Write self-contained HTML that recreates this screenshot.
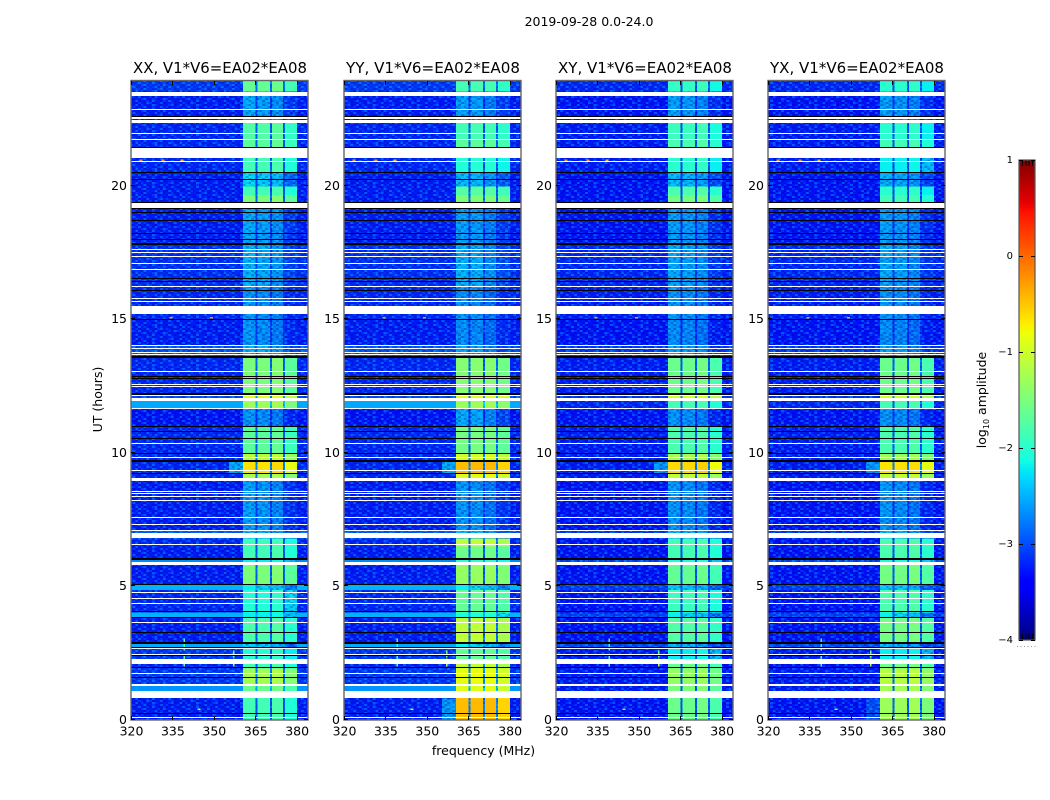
<!DOCTYPE html>
<html lang="en">
<head>
<meta charset="utf-8">
<title>2019-09-28 0.0-24.0</title>
<style>
html,body{margin:0;padding:0;background:#fff;}
svg{display:block;}
text{font-family:"DejaVu Sans","Liberation Sans",sans-serif;fill:#000;}
</style>
</head>
<body>
<svg id="chart" xmlns="http://www.w3.org/2000/svg" width="1050" height="800" viewBox="0 0 1050 800">
  <defs><pattern id="grain" patternUnits="userSpaceOnUse" x="0" y="0" width="44.16" height="26"></pattern></defs>
  <rect x="0" y="0" width="1050" height="800" fill="#fff"/>
  <text x="589" y="26" font-size="12.5" text-anchor="middle">2019-09-28 0.0-24.0</text>
  <text x="483.5" y="755" font-size="12.5" text-anchor="middle">frequency (MHz)</text>
  <text transform="translate(102,399.5) rotate(-90)" font-size="12.5" text-anchor="middle">UT (hours)</text>
  <text transform="translate(986,400) rotate(-90)" font-size="12.5" text-anchor="middle">log<tspan font-size="8" dy="3">10</tspan><tspan dy="-3"> amplitude</tspan></text>
  <g id="panels"></g>
  <g id="colorbar"></g>
  <line x1="1017" y1="646.5" x2="1036" y2="646.5" stroke="#999" stroke-width="1" stroke-dasharray="1 2.5"/>
</svg>
<script>
// ---- axis categories and tick labels ----
const panelTitles = ["XX, V1*V6=EA02*EA08", "YY, V1*V6=EA02*EA08", "XY, V1*V6=EA02*EA08", "YX, V1*V6=EA02*EA08"];
const freqTicks = [320, 335, 350, 365, 380];
const utTicks = [0, 5, 10, 15, 20];
const colorbarTicks = [1, 0, -1, -2, -3, -4];
const freqLimits = [320, 384.1];
const utLimits = [0, 23.93];
const levelLimits = [-4, 1];

// ---- frequency channel groups (MHz edges) ----
const channelEdges = [320, 360.6, 365.0, 365.8, 370.3, 371.0, 375, 375.8, 380.2, 384.1];
// role of each group: b = background, 0-3 = band number, g = gap between bands
const channelRoles = ["b", 0, "g", 1, "g", 2, "g", 3, "b"];

// ---- time segments, log10 amplitude read per block ----
const segmentStartUT = [0, 0.8, 1.07, 1.33, 1.93, 2.27, 2.68, 2.9, 3.82, 4.03, 4.87, 5.05, 5.8, 6.02, 6.5, 6.8, 7.1, 9.05, 9.22, 9.7, 10.0, 11.0, 11.65, 11.95, 12.2, 13.6, 14.05, 15.0, 15.5, 16.2, 17.3, 17.9, 19.38, 19.66, 19.97, 20.5, 21.05, 21.75, 22.35, 23.53];
const backgroundParallel = [-3.25, -3.25, -2.65, -3.1, -3.2, -3.1, -2.55, -3.25, -2.5, -3.2, -2.5, -3.25, -2.7, -3.25, -3.2, -2.9, -3.25, -3.2, -3.2, -3.2, -3.2, -3.3, -2.55, -3, -3.2, -2.95, -3.25, -3.2, -3.2, -3.15, -3.15, -3.25, -3.25, -3.25, -3.25, -3.2, -3.2, -3.2, -3.25, -3.1];
const backgroundCross = [-3.3, -3.3, -3.25, -3.25, -3.3, -3.25, -3, -3.3, -3.05, -3.3, -3.05, -3.3, -3, -3.3, -3.3, -3.1, -3.3, -3.25, -3.25, -3.25, -3.25, -3.3, -3.2, -3.1, -3.25, -3.1, -3.3, -3.25, -3.25, -3.2, -3.2, -3.3, -3.3, -3.3, -3.3, -3.25, -3.25, -3.25, -3.3, -3.2];
const bandLevelsXX = [-1.85, -1.85, -1.6, -1.25, -1.85, -2.0, -2.4, -1.8, -2.2, -2.05, -2.3, -1.5, -2.2, -1.85, -1.9, -2.5, -2.65, -1.25, -0.65, -1.15, -1.7, -2.7, -1.3, -0.9, -1.5, -2.5, -2.7, -2.7, -2.7, -2.55, -2.55, -2.6, -1.5, -1.85, -2.35, -1.85, -1.7, -1.75, -2.6, -1.65];
const bandLevelsYY = [-0.45, -0.55, -0.9, -0.85, -1.1, -1.65, -2.3, -1.1, -2.1, -1.65, -2.3, -1.35, -2.0, -1.6, -1.1, -2.5, -2.7, -0.9, -0.45, -1.0, -1.55, -2.6, -1.3, -0.9, -1.45, -2.6, -2.75, -2.7, -2.75, -2.55, -2.6, -2.65, -1.5, -1.75, -2.5, -2.05, -1.7, -1.85, -2.65, -1.85];
const bandLevelsXY = [-1.6, -1.6, -1.5, -1.35, -1.6, -2.2, -2.5, -1.75, -2.3, -1.9, -2.4, -1.65, -2.1, -1.85, -1.85, -2.5, -2.7, -1.1, -0.6, -1.25, -1.8, -2.7, -1.85, -0.95, -1.6, -2.6, -2.75, -2.7, -2.7, -2.6, -2.6, -2.65, -1.55, -1.8, -2.5, -2.0, -1.8, -1.9, -2.65, -1.95];
const bandLevelsYX = [-1.3, -1.25, -1.25, -1.15, -1.55, -2.2, -2.5, -1.55, -2.3, -1.8, -2.4, -1.55, -2.1, -1.8, -1.8, -2.5, -2.7, -1.1, -0.65, -1.3, -1.8, -2.7, -1.85, -1.0, -1.6, -2.6, -2.75, -2.7, -2.7, -2.6, -2.6, -2.65, -1.85, -2.0, -2.55, -2.2, -1.85, -2.0, -2.65, -2.0];
const bandOffsetsXX = [0, 0, 0.05, -0.2];
const bandOffsetsYY = [0, 0.02, 0.02, -0.12];
const bandOffsetsXY = [0, 0, 0.05, -0.2];
const bandOffsetsYX = [0, 0, 0.03, -0.2];
// extra per-band shift seen only in the faint rows
const faintBandOffsets = [0.1, 0.05, -0.1, -0.3];

// ---- low-level leak just below the first band ----
const leakPanels = [0, 1, 2, 3, 1, 3];
const leakStartUT = [9.22, 9.22, 9.22, 9.22, 0, 0];
const leakEndUT = [9.7, 9.7, 9.7, 9.7, 0.8, 0.8];
const leakValues = [-2.5, -2.5, -2.6, -2.6, -2.6, -3.0];

// ---- flagged (blank) time ranges, UT hours ----
const flaggedStartUT = [0.094, 0.806, 1.256, 1.706, 2.081, 2.418, 2.643, 3.618, 4.33, 4.518, 4.743, 5.792, 6.542, 6.805, 6.973, 7.067, 7.292, 7.554, 8.192, 8.342, 8.454, 8.529, 8.941, 9.316, 9.804, 10.329, 11.641, 11.941, 12.128, 12.465, 12.541, 13.028, 13.665, 13.741, 13.89, 14.003, 15.202, 15.652, 15.765, 16.214, 16.852, 17.077, 17.339, 17.489, 17.602, 19.176, 20.902, 21.051, 21.726, 21.951, 22.363, 22.513, 22.832, 23.375];
const flaggedEndUT = [0.131, 1.068, 1.331, 1.743, 2.268, 2.456, 2.681, 3.655, 4.367, 4.555, 4.78, 5.905, 6.58, 6.954, 7.01, 7.104, 7.329, 7.592, 8.229, 8.379, 8.492, 8.566, 9.054, 9.354, 9.841, 10.366, 11.678, 12.053, 12.166, 12.503, 12.578, 13.065, 13.703, 13.778, 13.927, 14.04, 15.502, 15.69, 15.802, 16.252, 16.889, 17.114, 17.377, 17.527, 17.639, 19.364, 20.939, 21.426, 21.763, 21.989, 22.475, 22.569, 22.869, 23.525];

// ---- scan boundaries drawn as black rules, UT hours ----
const scanBreaksUT = [0.225, 1.575, 1.949, 2.399, 2.699, 3.262, 3.824, 4.049, 5.061, 9.222, 9.972, 10.534, 10.797, 10.984, 12.784, 12.859, 14.995, 16.082, 16.42, 16.532, 17.994, 18.219, 18.706, 19.006, 19.157, 19.382, 20.244, 20.506, 21.443, 22.606];
const wideScanBreaksUT = [2.868, 6.017, 9.691, 12.203, 13.589, 17.844];

// ---- narrow interference features visible in the plots ----
const rfiFreqMHz = [339, 339, 357, 357];
const rfiStartUT = [2.0, 2.6, 2.0, 2.35];
const rfiEndUT = [2.45, 3.05, 2.3, 2.6];
const rfiLevels = [-1.7, -1.9, -1.1, -1.6];
const spotFreqMHz = [334, 348.6, 323, 331, 338, 344];
const spotUT = [15.06, 15.06, 20.95, 20.95, 20.95, 0.4];
const spotLevels = [-0.3, -0.3, -0.3, -0.3, -0.5, -1.4];

// ---- decorative speckle tile (16 x 13), an approximation of the image's noise grain ----
const grainRows = ["1403120431021340","3012401302413012","0241130420130241","2103402113042103","4012031240310421","1320412013402130","0413021340120432","2041310241302014","1302042103413201","3140213042011304","0213401320243012","2401130412031420","1032043012401231"];

const backgroundByPanel = [backgroundParallel, backgroundParallel, backgroundCross, backgroundCross];
const bandLevelsByPanel = [bandLevelsXX, bandLevelsYY, bandLevelsXY, bandLevelsYX];
const bandOffsetsByPanel = [bandOffsetsXX, bandOffsetsYY, bandOffsetsXY, bandOffsetsYX];

// ---- layout ----
const NS = "http://www.w3.org/2000/svg";
const panelLeft = [131, 344, 556, 768];
const panelWidth = 177;
const plotTop = 81;
const plotBottom = 720;
const barX = 1019, barW = 16, barTop = 160, barBottom = 640;
const barCombStep = 3.2;

function xScale(p, f) {
  return panelLeft[p] + (f - freqLimits[0]) / (freqLimits[1] - freqLimits[0]) * panelWidth;
}
function yScale(u) {
  return plotBottom - (u - utLimits[0]) / (utLimits[1] - utLimits[0]) * (plotBottom - plotTop);
}
function barScale(v) {
  return barBottom - (v - levelLimits[0]) / (levelLimits[1] - levelLimits[0]) * (barBottom - barTop);
}
function ramp(t, pts) {
  for (let i = 1; i < pts.length; i++) {
    if (t <= pts[i][0]) {
      const a = pts[i - 1], b = pts[i];
      return a[1] + (b[1] - a[1]) * (t - a[0]) / (b[0] - a[0]);
    }
  }
  return pts[pts.length - 1][1];
}
function jet(v) {
  const t = Math.max(0, Math.min(1, (v - levelLimits[0]) / (levelLimits[1] - levelLimits[0])));
  const r = ramp(t, [[0, 0], [0.35, 0], [0.66, 1], [0.89, 1], [1, 0.5]]);
  const g = ramp(t, [[0, 0], [0.125, 0], [0.375, 1], [0.64, 1], [0.91, 0], [1, 0]]);
  const b = ramp(t, [[0, 0.5], [0.11, 1], [0.34, 1], [0.65, 0], [1, 0]]);
  return "rgb(" + Math.round(r * 255) + "," + Math.round(g * 255) + "," + Math.round(b * 255) + ")";
}
function makeRect(parent, x, y, w, h, fill) {
  const el = document.createElementNS(NS, "rect");
  el.setAttribute("x", x.toFixed(2));
  el.setAttribute("y", y.toFixed(2));
  el.setAttribute("width", w.toFixed(2));
  el.setAttribute("height", h.toFixed(2));
  el.setAttribute("fill", fill);
  el.setAttribute("shape-rendering", "crispEdges");
  parent.appendChild(el);
  return el;
}
function makeText(parent, x, y, str, size, anchor) {
  const el = document.createElementNS(NS, "text");
  el.setAttribute("x", x);
  el.setAttribute("y", y);
  el.setAttribute("font-size", size);
  el.setAttribute("text-anchor", anchor);
  el.textContent = str;
  parent.appendChild(el);
  return el;
}
function cellLevel(p, s, role) {
  const bg = backgroundByPanel[p][s];
  if (role === "b") return bg;
  const band = bandLevelsByPanel[p][s];
  if (role === "g") return bg + (band - bg) * 0.2;
  const faint = band < -2.2 ? faintBandOffsets[role] : 0;
  return band + bandOffsetsByPanel[p][role] + faint;
}
function hasGrain(role, level) {
  return role === "b" ? level < -2.8 : level < -2.2;
}

// speckle tile
const grainTile = document.getElementById("grain");
const grainFill = ["rgba(0,0,120,0.30)", "rgba(0,0,140,0.12)", "rgba(0,0,0,0)", "rgba(0,130,255,0.25)", "rgba(0,190,255,0.40)"];
grainRows.forEach(function (row, r) {
  row.split("").forEach(function (ch, c) {
    const speck = makeRect(grainTile, c * 2.76, r * 2, 2.76, 2, grainFill[Number(ch)]);
    
    
  });
});

const panelsRoot = document.getElementById("panels");
panelTitles.forEach(function (title, p) {
  const g = document.createElementNS(NS, "g");
  
  
  panelsRoot.appendChild(g);

  // heatmap cells
  segmentStartUT.forEach(function (start, s) {
    const end = s + 1 < segmentStartUT.length ? segmentStartUT[s + 1] : utLimits[1];
    channelRoles.forEach(function (role, c) {
      const x0 = xScale(p, channelEdges[c]);
      const x1 = xScale(p, channelEdges[c + 1]);
      const y1 = yScale(start);
      const y0 = yScale(end);
      const level = cellLevel(p, s, role);
      const cell = makeRect(g, x0, y0, x1 - x0, y1 - y0, jet(level));
      
      
      if (hasGrain(role, level)) {
        const grainCell = makeRect(g, x0, y0, x1 - x0, y1 - y0, "url(#grain)");
        
        
      }
    });
  });

  // leak below the first band
  leakPanels.forEach(function (lp, i) {
    if (lp !== p) return;
    const x0 = xScale(p, 355.5);
    const y0 = yScale(leakEndUT[i]);
    const leak = makeRect(g, x0, y0, xScale(p, channelEdges[1]) - x0, yScale(leakStartUT[i]) - y0, jet(leakValues[i]));
    
    
    const leakGrain = makeRect(g, x0, y0, xScale(p, channelEdges[1]) - x0, yScale(leakStartUT[i]) - y0, "url(#grain)");
    
    
  });

  // interference streaks
  rfiFreqMHz.forEach(function (f, i) {
    const streak = makeRect(g, xScale(p, f), yScale(rfiEndUT[i]), 1.5, yScale(rfiStartUT[i]) - yScale(rfiEndUT[i]), jet(rfiLevels[i]));
    
    
  });
  spotFreqMHz.forEach(function (f, i) {
    const spot = makeRect(g, xScale(p, f), yScale(spotUT[i]) - 1, 3, 1.5, jet(spotLevels[i]));
    
    
  });

  // flagged rows
  flaggedStartUT.forEach(function (start, i) {
    const y0 = Math.round(yScale(flaggedEndUT[i]));
    const y1 = Math.round(yScale(start));
    const row = makeRect(g, panelLeft[p], y0, panelWidth, Math.max(1, y1 - y0), "#fff");
    
    
  });

  // scan boundaries
  scanBreaksUT.forEach(function (u) {
    const line = makeRect(g, panelLeft[p], Math.round(yScale(u) - 0.5), panelWidth, 1, "#000");
    
    
  });
  wideScanBreaksUT.forEach(function (u) {
    const line = makeRect(g, panelLeft[p], Math.round(yScale(u) - 1), panelWidth, 2, "#000");
    
    
  });

  // frame
  const frame = document.createElementNS(NS, "rect");
  
  
  frame.setAttribute("x", panelLeft[p]);
  frame.setAttribute("y", plotTop - 0.5);
  frame.setAttribute("width", panelWidth);
  frame.setAttribute("height", plotBottom - plotTop + 0.5);
  frame.setAttribute("fill", "none");
  frame.setAttribute("stroke", "#666");
  frame.setAttribute("stroke-width", "1.4");
  g.appendChild(frame);

  // x ticks
  freqTicks.forEach(function (f) {
    const x = Math.round(xScale(p, f));
    const tickB = makeRect(g, x, plotBottom - 4, 1, 4, "#000");
    
    
    const tickT = makeRect(g, x, plotTop, 1, 4, "#000");
    
    
    const label = makeText(g, xScale(p, f) + 0.5, 735.5, String(f), 12.5, "middle");
    
    
  });

  // y ticks
  utTicks.forEach(function (u) {
    const y = Math.round(yScale(u)) - 1;
    const tickL = makeRect(g, panelLeft[p], y, 4, 1, "#000");
    
    
    const tickR = makeRect(g, panelLeft[p] + panelWidth - 4, y, 4, 1, "#000");
    
    
    const label = makeText(g, panelLeft[p] - 4, y + 5, String(u), 12.5, "end");
    
    
  });

  // title
  const titleEl = makeText(g, panelLeft[p] + panelWidth / 2 + 0.5, 73, title, 15, "middle");
  titleEl.setAttribute("textLength", "174");
  titleEl.setAttribute("lengthAdjust", "spacingAndGlyphs");
  
  
});

// colorbar
const barRoot = document.getElementById("colorbar");
for (let py = barTop; py < barBottom; py++) {
  const level = levelLimits[1] - (py - barTop + 0.5) / (barBottom - barTop) * (levelLimits[1] - levelLimits[0]);
  const strip = makeRect(barRoot, barX, py, barW, 1, jet(level));
  
  
}
for (let i = 1; i <= 4; i++) {
  const combTop = makeRect(barRoot, barX + i * barCombStep, barTop, 1, 6, "#000");
  
  
  const combBottom = makeRect(barRoot, barX + i * barCombStep, barBottom - 6, 1, 6, "#000");
  
  
}
const barFrame = document.createElementNS(NS, "rect");


barFrame.setAttribute("x", barX);
barFrame.setAttribute("y", barTop);
barFrame.setAttribute("width", barW);
barFrame.setAttribute("height", barBottom - barTop);
barFrame.setAttribute("fill", "none");
barFrame.setAttribute("stroke", "#555");
barFrame.setAttribute("stroke-width", "1.2");
barRoot.appendChild(barFrame);
colorbarTicks.forEach(function (v) {
  const y = Math.round(barScale(v));
  const left = makeRect(barRoot, barX, y, 4, 1, "#000");
  
  
  const right = makeRect(barRoot, barX + barW - 4, y, 4, 1, "#000");
  
  
  const str = v < 0 ? "\u2212" + Math.abs(v) : String(v);
  const label = makeText(barRoot, 1013, y + 3, str, 10, "end");
  
  
});
</script>
</body>
</html>
